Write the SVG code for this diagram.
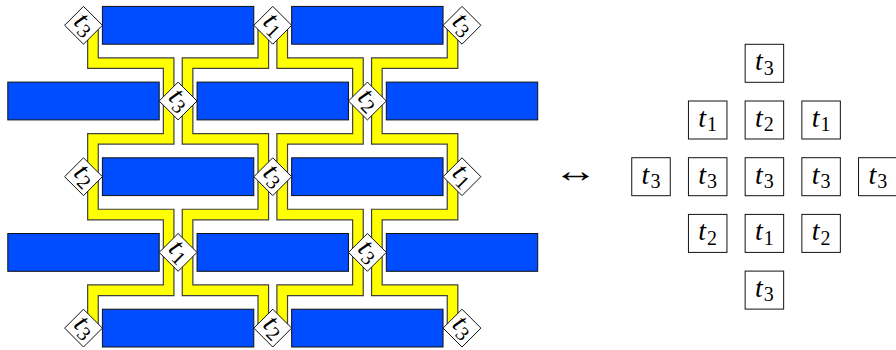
<svg xmlns="http://www.w3.org/2000/svg" xmlns:xlink="http://www.w3.org/1999/xlink" width="896" height="350" viewBox="0 0 896 350">
<style>
.blk{fill:#004cff;stroke:#111;stroke-width:1}
.dia{fill:#fff;stroke:#111;stroke-width:1}
.sq{fill:#fff;stroke:#111;stroke-width:1}
.bo{fill:none;stroke:#404040;stroke-width:11.8;stroke-linejoin:miter}
.by{fill:none;stroke:#ffff00;stroke-width:9.4;stroke-linejoin:miter}
.lab{font-family:"Liberation Serif",serif;font-size:28px;fill:#000}
.it{font-style:italic}
.sub{font-size:20px}
.arr{font-family:"Liberation Serif",serif;font-size:32px;fill:#000}
</style>
<defs>
<path id="bands" d="M92.96 25.3V63.15H168.64V101 M187.56 101V63.15H263.29V25.3 M282.21 25.3V63.15H357.94V101 M376.86 101V63.15H452.54V25.3
M92.96 176.7V138.85H168.64V101 M187.56 101V138.85H263.29V176.7 M282.21 176.7V138.85H357.94V101 M376.86 101V138.85H452.54V176.7
M92.96 176.7V214.55H168.64V252.4 M187.56 252.4V214.55H263.29V176.7 M282.21 176.7V214.55H357.94V252.4 M376.86 252.4V214.55H452.54V176.7
M92.96 328.1V290.25H168.64V252.4 M187.56 252.4V290.25H263.29V328.1 M282.21 328.1V290.25H357.94V252.4 M376.86 252.4V290.25H452.54V328.1"/>
<polygon id="dshape" points="0,-18.9 18.9,0 0,18.9 -18.9,0"/>
</defs>
<g id="connectors">
<use xlink:href="#bands" class="bo"/>
<use xlink:href="#bands" class="by"/>
</g>
<g id="blocks">
<g id="r1a"><rect class="blk" x="102.4" y="6.4" width="151.4" height="37.8"/></g>
<g id="r1b"><rect class="blk" x="291.65" y="6.4" width="151.4" height="37.8"/></g>
<g id="r2a"><rect class="blk" x="7.8" y="82.1" width="151.4" height="37.8"/></g>
<g id="r2b"><rect class="blk" x="197.05" y="82.1" width="151.4" height="37.8"/></g>
<g id="r2c"><rect class="blk" x="386.3" y="82.1" width="151.4" height="37.8"/></g>
<g id="r3a"><rect class="blk" x="102.4" y="157.8" width="151.4" height="37.8"/></g>
<g id="r3b"><rect class="blk" x="291.65" y="157.8" width="151.4" height="37.8"/></g>
<g id="r4a"><rect class="blk" x="7.8" y="233.5" width="151.4" height="37.8"/></g>
<g id="r4b"><rect class="blk" x="197.05" y="233.5" width="151.4" height="37.8"/></g>
<g id="r4c"><rect class="blk" x="386.3" y="233.5" width="151.4" height="37.8"/></g>
<g id="r5a"><rect class="blk" x="102.4" y="309.2" width="151.4" height="37.8"/></g>
<g id="r5b"><rect class="blk" x="291.65" y="309.2" width="151.4" height="37.8"/></g>
</g>
<g id="diamonds">
<g id="dA1" transform="translate(83.5,25.3)"><use xlink:href="#dshape" class="dia"/><text class="lab" transform="rotate(45)" y="6" text-anchor="middle"><tspan class="it">t</tspan><tspan class="sub" dy="4.3" dx="1">3</tspan></text></g>
<g id="dA2" transform="translate(272.75,25.3)"><use xlink:href="#dshape" class="dia"/><text class="lab" transform="rotate(45)" y="6" text-anchor="middle"><tspan class="it">t</tspan><tspan class="sub" dy="4.3" dx="1">1</tspan></text></g>
<g id="dA3" transform="translate(462,25.3)"><use xlink:href="#dshape" class="dia"/><text class="lab" transform="rotate(45)" y="6" text-anchor="middle"><tspan class="it">t</tspan><tspan class="sub" dy="4.3" dx="1">3</tspan></text></g>
<g id="dB1" transform="translate(178.1,101)"><use xlink:href="#dshape" class="dia"/><text class="lab" transform="rotate(45)" y="6" text-anchor="middle"><tspan class="it">t</tspan><tspan class="sub" dy="4.3" dx="1">3</tspan></text></g>
<g id="dB2" transform="translate(367.4,101)"><use xlink:href="#dshape" class="dia"/><text class="lab" transform="rotate(45)" y="6" text-anchor="middle"><tspan class="it">t</tspan><tspan class="sub" dy="4.3" dx="1">2</tspan></text></g>
<g id="dC1" transform="translate(83.5,176.7)"><use xlink:href="#dshape" class="dia"/><text class="lab" transform="rotate(45)" y="6" text-anchor="middle"><tspan class="it">t</tspan><tspan class="sub" dy="4.3" dx="1">2</tspan></text></g>
<g id="dC2" transform="translate(272.75,176.7)"><use xlink:href="#dshape" class="dia"/><text class="lab" transform="rotate(45)" y="6" text-anchor="middle"><tspan class="it">t</tspan><tspan class="sub" dy="4.3" dx="1">3</tspan></text></g>
<g id="dC3" transform="translate(462,176.7)"><use xlink:href="#dshape" class="dia"/><text class="lab" transform="rotate(45)" y="6" text-anchor="middle"><tspan class="it">t</tspan><tspan class="sub" dy="4.3" dx="1">1</tspan></text></g>
<g id="dD1" transform="translate(178.1,252.4)"><use xlink:href="#dshape" class="dia"/><text class="lab" transform="rotate(45)" y="6" text-anchor="middle"><tspan class="it">t</tspan><tspan class="sub" dy="4.3" dx="1">1</tspan></text></g>
<g id="dD2" transform="translate(367.4,252.4)"><use xlink:href="#dshape" class="dia"/><text class="lab" transform="rotate(45)" y="6" text-anchor="middle"><tspan class="it">t</tspan><tspan class="sub" dy="4.3" dx="1">3</tspan></text></g>
<g id="dE1" transform="translate(83.5,328.1)"><use xlink:href="#dshape" class="dia"/><text class="lab" transform="rotate(45)" y="6" text-anchor="middle"><tspan class="it">t</tspan><tspan class="sub" dy="4.3" dx="1">3</tspan></text></g>
<g id="dE2" transform="translate(272.75,328.1)"><use xlink:href="#dshape" class="dia"/><text class="lab" transform="rotate(45)" y="6" text-anchor="middle"><tspan class="it">t</tspan><tspan class="sub" dy="4.3" dx="1">2</tspan></text></g>
<g id="dE3" transform="translate(462,328.1)"><use xlink:href="#dshape" class="dia"/><text class="lab" transform="rotate(45)" y="6" text-anchor="middle"><tspan class="it">t</tspan><tspan class="sub" dy="4.3" dx="1">3</tspan></text></g>
</g>
<g id="arrow"><text class="arr" transform="translate(575.5,177) scale(1.4,1.05)" y="5" text-anchor="middle">↔</text></g>
<g id="grid">
<g id="s13" transform="translate(764.4,63.3)"><rect class="sq" x="-19.25" y="-19" width="38.5" height="38"/><text class="lab" y="7" text-anchor="middle"><tspan class="it">t</tspan><tspan class="sub" dy="4.3" dx="1">3</tspan></text></g>
<g id="s22" transform="translate(707.7,120)"><rect class="sq" x="-19.25" y="-19" width="38.5" height="38"/><text class="lab" y="7" text-anchor="middle"><tspan class="it">t</tspan><tspan class="sub" dy="4.3" dx="1">1</tspan></text></g>
<g id="s23" transform="translate(764.4,120)"><rect class="sq" x="-19.25" y="-19" width="38.5" height="38"/><text class="lab" y="7" text-anchor="middle"><tspan class="it">t</tspan><tspan class="sub" dy="4.3" dx="1">2</tspan></text></g>
<g id="s24" transform="translate(821.1,120)"><rect class="sq" x="-19.25" y="-19" width="38.5" height="38"/><text class="lab" y="7" text-anchor="middle"><tspan class="it">t</tspan><tspan class="sub" dy="4.3" dx="1">1</tspan></text></g>
<g id="s31" transform="translate(651,176.7)"><rect class="sq" x="-19.25" y="-19" width="38.5" height="38"/><text class="lab" y="7" text-anchor="middle"><tspan class="it">t</tspan><tspan class="sub" dy="4.3" dx="1">3</tspan></text></g>
<g id="s32" transform="translate(707.7,176.7)"><rect class="sq" x="-19.25" y="-19" width="38.5" height="38"/><text class="lab" y="7" text-anchor="middle"><tspan class="it">t</tspan><tspan class="sub" dy="4.3" dx="1">3</tspan></text></g>
<g id="s33" transform="translate(764.4,176.7)"><rect class="sq" x="-19.25" y="-19" width="38.5" height="38"/><text class="lab" y="7" text-anchor="middle"><tspan class="it">t</tspan><tspan class="sub" dy="4.3" dx="1">3</tspan></text></g>
<g id="s34" transform="translate(821.1,176.7)"><rect class="sq" x="-19.25" y="-19" width="38.5" height="38"/><text class="lab" y="7" text-anchor="middle"><tspan class="it">t</tspan><tspan class="sub" dy="4.3" dx="1">3</tspan></text></g>
<g id="s35" transform="translate(877.8,176.7)"><rect class="sq" x="-19.25" y="-19" width="38.5" height="38"/><text class="lab" y="7" text-anchor="middle"><tspan class="it">t</tspan><tspan class="sub" dy="4.3" dx="1">3</tspan></text></g>
<g id="s42" transform="translate(707.7,233.4)"><rect class="sq" x="-19.25" y="-19" width="38.5" height="38"/><text class="lab" y="7" text-anchor="middle"><tspan class="it">t</tspan><tspan class="sub" dy="4.3" dx="1">2</tspan></text></g>
<g id="s43" transform="translate(764.4,233.4)"><rect class="sq" x="-19.25" y="-19" width="38.5" height="38"/><text class="lab" y="7" text-anchor="middle"><tspan class="it">t</tspan><tspan class="sub" dy="4.3" dx="1">1</tspan></text></g>
<g id="s44" transform="translate(821.1,233.4)"><rect class="sq" x="-19.25" y="-19" width="38.5" height="38"/><text class="lab" y="7" text-anchor="middle"><tspan class="it">t</tspan><tspan class="sub" dy="4.3" dx="1">2</tspan></text></g>
<g id="s53" transform="translate(764.4,290.1)"><rect class="sq" x="-19.25" y="-19" width="38.5" height="38"/><text class="lab" y="7" text-anchor="middle"><tspan class="it">t</tspan><tspan class="sub" dy="4.3" dx="1">3</tspan></text></g>
</g>
</svg>
